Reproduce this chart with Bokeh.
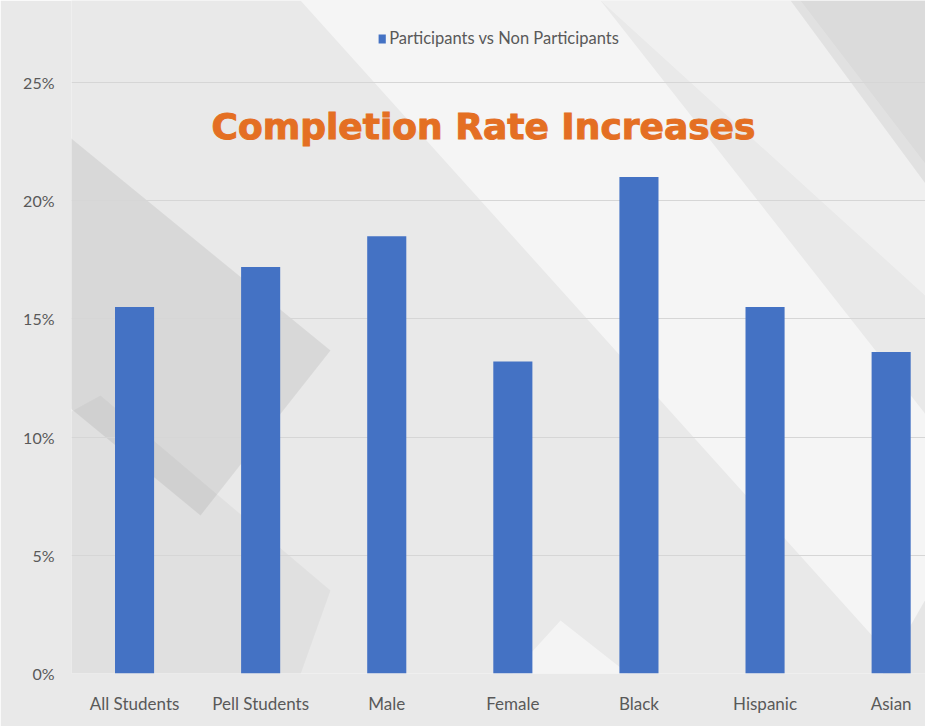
from bokeh.plotting import figure
from bokeh.models import FixedTicker, PrintfTickFormatter, Label, ColumnDataSource, Range1d
from bokeh.embed import file_html
from bokeh.resources import INLINE

# ---------------- data ----------------
categories = ["All Students", "Pell Students", "Male", "Female", "Black", "Hispanic", "Asian"]
increase_pct = [15.5, 17.2, 18.5, 13.2, 21.0, 15.5, 13.6]
y_ticks = [0, 5, 10, 15, 20, 25]
series_name = "Participants vs Non Participants"
title_text = "Completion Rate Increases"

# ---------------- layout ----------------
W, H = 925, 726
BORDER_L, BORDER_B = 71, 53
FRAME_W = W - BORDER_L
FRAME_H = H - BORDER_B
SLOT_PX = 126.1          # pixels per category
UNIT_PX = 23.64          # pixels per percentage point
X0 = -0.5
X1 = X0 + FRAME_W / SLOT_PX
Y1 = FRAME_H / UNIT_PX
FRAME_LEFT_PAGE = BORDER_L
FRAME_BOTTOM_PAGE = FRAME_H

LABEL_FONT = "Lato"
LABEL_COLOR = "#595959"
BASE_BG = "#e9e9e9"
TITLE_COLOR = "#E46F23"


def px_to_data(pts):
    xs = [X0 + (px - FRAME_LEFT_PAGE) / SLOT_PX for px, _ in pts]
    ys = [(FRAME_BOTTOM_PAGE - py) / UNIT_PX for _, py in pts]
    return xs, ys


p = figure(width=W, height=H, output_backend="svg", toolbar_location=None,
           x_range=Range1d(X0, X1), y_range=Range1d(0, Y1),
           min_border_left=BORDER_L, min_border_right=0,
           min_border_top=0, min_border_bottom=BORDER_B,
           background_fill_color=BASE_BG, border_fill_color=BASE_BG,
           outline_line_color=None)

# ---------------- decorative background facets ----------------
decor = [
    ([(300, 0), (600, 0), (930, 420), (930, 700)], "#ffffff", 0.55),
    ([(600, 0), (800, 0), (930, 170), (930, 300)], "#ffffff", 0.35),
    ([(0, 80), (330, 350), (200, 515), (0, 350)], "#000000", 0.07),
    ([(0, 450), (100, 395), (330, 590), (280, 730), (0, 730)], "#000000", 0.035),
    ([(790, 0), (930, 0), (930, 190)], "#000000", 0.06),
    ([(930, 590), (930, 730), (850, 730)], "#000000", 0.06),
    ([(460, 730), (560, 620), (700, 730)], "#ffffff", 0.5),
]
for pts, col, a in decor:
    xs, ys = px_to_data(pts)
    p.patch(xs, ys, fill_color=col, fill_alpha=a, line_color=None, level="image")

# ---------------- bars ----------------
src = ColumnDataSource(data=dict(x=list(range(len(categories))), top=increase_pct, cat=categories))
p.vbar(x="x", top="top", width=0.31, source=src, fill_color="#4472C4",
       line_color=None, legend_label=series_name)

# ---------------- axes / grid ----------------
p.xaxis.ticker = FixedTicker(ticks=list(range(len(categories))))
p.xaxis.major_label_overrides = {i: c for i, c in enumerate(categories)}
p.yaxis.ticker = FixedTicker(ticks=y_ticks)
p.yaxis.formatter = PrintfTickFormatter(format="%d%%")

for ax in (p.xaxis, p.yaxis):
    ax.axis_line_color = None
    ax.major_tick_line_color = None
    ax.minor_tick_line_color = None
    ax.major_tick_out = 0
    ax.major_tick_in = 0
    ax.major_label_text_font = LABEL_FONT
    ax.major_label_text_color = LABEL_COLOR
p.xaxis.major_label_text_font_size = "17px"
p.yaxis.major_label_text_font_size = "16px"
p.xaxis.major_label_standoff = 19
p.yaxis.major_label_standoff = 17

p.xgrid.visible = False
p.ygrid.ticker = FixedTicker(ticks=y_ticks)
p.ygrid.grid_line_color = "#d6d6d6"
p.ygrid.grid_line_width = 1

# ---------------- legend ----------------
lg = p.legend[0]
lg.location = "top_center"
lg.orientation = "horizontal"
lg.margin = 28
lg.padding = 0
lg.border_line_color = None
lg.background_fill_alpha = 0
lg.label_text_font = LABEL_FONT
lg.label_text_font_size = "16.5px"
lg.label_text_color = LABEL_COLOR
lg.glyph_width = 9
lg.glyph_height = 11
lg.label_height = 20
lg.label_standoff = 3

# ---------------- title inside plot ----------------
title = Label(x=X0 + (483 - FRAME_LEFT_PAGE) / SLOT_PX, y=(FRAME_BOTTOM_PAGE - 126) / UNIT_PX,
              text=title_text, text_align="center", text_baseline="alphabetic",
              text_font="DejaVu Sans", text_font_style="bold", text_font_size="36px",
              text_color=TITLE_COLOR, text_outline_color=TITLE_COLOR)
p.add_layout(title)

open("out.html", "w").write(file_html(p, INLINE))
